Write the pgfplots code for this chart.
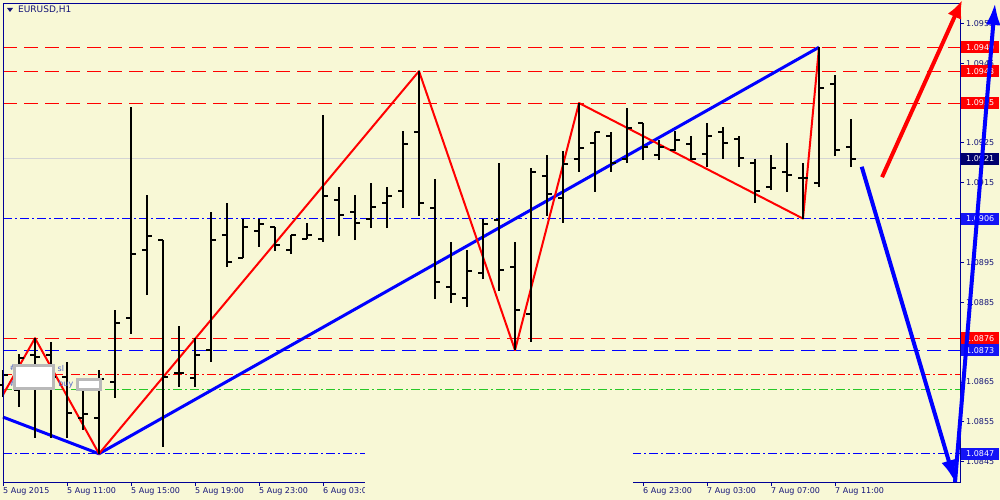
\documentclass[border=0pt]{standalone}
\usepackage{pgfplots}
\pgfplotsset{compat=1.18}
\usepackage{pgfplotstable}
\usepackage{fontspec}
\setmainfont{DejaVu Sans}
\usetikzlibrary{arrows.meta}
\definecolor{bgc}{RGB}{248,248,214}
\definecolor{framec}{RGB}{0,0,150}
\definecolor{navytxt}{RGB}{20,20,120}
\definecolor{mtred}{RGB}{255,0,0}
\definecolor{mtblue}{RGB}{0,0,255}
\definecolor{mtgreen}{RGB}{40,200,40}
\definecolor{pricegray}{RGB}{212,212,212}
\definecolor{navybox}{RGB}{0,0,110}
\definecolor{boxblue}{RGB}{20,20,245}
\definecolor{lbltxt}{RGB}{80,100,200}
\tikzset{pbox/.style={anchor=west, xshift=1pt, minimum width=38pt, minimum height=12pt, inner sep=0pt, text=white, align=center},
  longdash/.style={line width=1pt, dash pattern=on 14pt off 7pt},
  dashdot/.style={line width=1pt, dash pattern=on 9pt off 3pt on 2pt off 3pt}}
\pgfplotsset{mtgeom/.style={at={(0pt,0pt)}, anchor=south west,
  scale only axis, width=957pt, height=479pt,
  xmin=0, xmax=59.8125, ymin=1.083991, ymax=1.09601, clip=false}}

\pgfplotstableread{
i o h l c
0 1.08643 1.08680 1.08612 1.08668
1 1.08630 1.08720 1.08587 1.08710
2 1.08718 1.08760 1.08510 1.08713
3 1.08718 1.08750 1.08510 1.08663
4 1.08663 1.08700 1.08510 1.08572
5 1.08560 1.08650 1.08530 1.08570
6 1.08560 1.08680 1.08470 1.08658
7 1.08650 1.08831 1.08610 1.08798
8 1.08811 1.09340 1.08771 1.08971
9 1.08981 1.09119 1.08868 1.09016
10 1.09006 1.09006 1.08487 1.08663
11 1.08673 1.08791 1.08638 1.08673
12 1.08660 1.08760 1.08638 1.08718
13 1.08730 1.09077 1.08700 1.09006
14 1.09019 1.09099 1.08939 1.08951
15 1.08961 1.09059 1.08961 1.09039
16 1.09029 1.09059 1.08989 1.09047
17 1.09039 1.09039 1.08979 1.08994
18 1.08981 1.09019 1.08971 1.09019
19 1.09009 1.09049 1.09009 1.09019
20 1.09009 1.09320 1.09001 1.09117
21 1.09107 1.09139 1.09016 1.09069
22 1.09077 1.09119 1.09006 1.09049
23 1.09059 1.09149 1.09036 1.09089
24 1.09099 1.09139 1.09036 1.09117
25 1.09129 1.09280 1.09087 1.09247
26 1.09277 1.09430 1.09067 1.09099
27 1.09087 1.09159 1.08858 1.08901
28 1.08888 1.09001 1.08848 1.08871
29 1.08861 1.08981 1.08838 1.08929
30 1.08924 1.09059 1.08908 1.09047
31 1.09057 1.09200 1.08878 1.08931
32 1.08939 1.09001 1.08730 1.08831
33 1.08821 1.09187 1.08750 1.09177
34 1.09167 1.09220 1.09067 1.09122
35 1.09112 1.09230 1.09049 1.09197
36 1.09210 1.09350 1.09177 1.09237
37 1.09250 1.09277 1.09127 1.09277
38 1.09267 1.09277 1.09177 1.09200
39 1.09210 1.09338 1.09200 1.09287
40 1.09300 1.09300 1.09207 1.09240
41 1.09220 1.09257 1.09207 1.09240
42 1.09232 1.09280 1.09230 1.09257
43 1.09247 1.09267 1.09207 1.09210
44 1.09222 1.09300 1.09190 1.09267
45 1.09277 1.09290 1.09210 1.09250
46 1.09260 1.09267 1.09190 1.09212
47 1.09200 1.09210 1.09099 1.09129
48 1.09139 1.09220 1.09132 1.09187
49 1.09177 1.09250 1.09127 1.09169
50 1.09162 1.09200 1.09060 1.09162
51 1.09149 1.09490 1.09139 1.09388
52 1.09398 1.09420 1.09217 1.09232
53 1.09240 1.09310 1.09190 1.09210
}\bars

\begin{document}
\begin{tikzpicture}[font=\fontsize{8}{9.6}\selectfont]
\fill[bgc] (-3pt,-18pt) rectangle (997pt,482pt);
\begin{axis}[mtgeom,
  axis on top,
  axis line style={framec, line width=0.9pt},
  tick align=outside, major tick length=4pt,
  tick style={framec, line width=0.9pt},
  ytick pos=right, yticklabel pos=right,
  xtick pos=left,
  ytick={1.0845,1.0855,1.0865,1.0875,1.0885,1.0895,1.0905,1.0915,1.0925,1.0935,1.0945,1.0955},
  yticklabels={1.0845,1.0855,1.0865,,1.0885,1.0895,,1.0915,1.0925,,1.0945,1.0955},
  yticklabel style={text=navytxt, inner sep=2pt},
  xtick={0,4,8,12,16,20,40,44,48,52},
  xticklabels={5 Aug 2015,5 Aug 11:00,5 Aug 15:00,5 Aug 19:00,5 Aug 23:00,6 Aug 03:00,6 Aug 23:00,7 Aug 03:00,7 Aug 07:00,7 Aug 11:00},
  xticklabel style={text=navytxt, anchor=north west, inner sep=1pt, xshift=-1pt},
]
% horizontal lines
\addplot[draw=pricegray, line width=1pt] coordinates {(0,1.0921) (59.8125,1.0921)};
\addplot[draw=mtgreen, dashdot] coordinates {(0,1.08630) (59.8125,1.08630)};
\addplot[draw=mtred, dashdot] coordinates {(0,1.08670) (59.8125,1.08670)};
\addplot[draw=mtblue, dashdot] coordinates {(0,1.0906) (59.8125,1.0906)};
\addplot[draw=mtblue, dashdot] coordinates {(0,1.0847) (59.8125,1.0847)};
\addplot[draw=mtred, longdash] coordinates {(0,1.0876) (59.8125,1.0876)};
\addplot[draw=mtblue, longdash] coordinates {(0,1.0873) (59.8125,1.0873)};
\addplot[draw=mtred, longdash] coordinates {(0,1.0949) (59.8125,1.0949)};
\addplot[draw=mtred, longdash] coordinates {(0,1.0943) (59.8125,1.0943)};
\addplot[draw=mtred, longdash] coordinates {(0,1.0935) (59.8125,1.0935)};
% zigzags
\addplot[draw=mtblue, line width=3pt, line join=round] coordinates {(0,1.08562) (6,1.0847) (51,1.0949)};
\addplot[draw=mtred, line width=2pt, line join=round] coordinates {(0,1.08618) (2,1.0876) (6,1.0847) (26,1.0943) (32,1.0873) (36,1.0935) (50,1.0906) (51,1.0949)};
% OHLC bars
\addplot[draw=none, mark=none, error bars/.cd, y dir=plus, y explicit, error mark=none, error bar style={draw=black, line width=2.2pt}]
  table[x=i, y=l, y error plus expr=\thisrow{h}-\thisrow{l}] {\bars};
\addplot[draw=none, mark=none, error bars/.cd, x dir=minus, x fixed=0.31, error mark=none, error bar style={draw=black, line width=2pt}]
  table[x=i, y=o] {\bars};
\addplot[draw=none, mark=none, error bars/.cd, x dir=plus, x fixed=0.31, error mark=none, error bar style={draw=black, line width=2pt}]
  table[x=i, y=c] {\bars};
% trade line labels (left)
\node[text=lbltxt, anchor=west, inner sep=0pt] at (axis cs:0.4,1.08685) {\#};
\node[text=lbltxt, anchor=west, inner sep=0pt] at (axis cs:3.4,1.08685) {sl};
\node[text=lbltxt, anchor=west, inner sep=0pt] at (axis cs:0.4,1.08645) {\#};
\node[text=lbltxt, anchor=west, inner sep=0pt] at (axis cs:3.45,1.08645) {buy};
\filldraw[fill=white, draw=gray!55, line width=3pt] (axis cs:0.7,1.08692) rectangle (axis cs:3.18,1.08634);
\filldraw[fill=white, draw=gray!55, line width=3pt] (axis cs:4.66,1.08656) rectangle (axis cs:6.09,1.08631);
% anchors for the price boxes
\coordinate (p0949) at (axis cs:59.8125,1.0949);
\coordinate (p0943) at (axis cs:59.8125,1.0943);
\coordinate (p0935) at (axis cs:59.8125,1.0935);
\coordinate (p0921) at (axis cs:59.8125,1.0921);
\coordinate (p0906) at (axis cs:59.8125,1.0906);
\coordinate (p0876) at (axis cs:59.8125,1.0876);
\coordinate (p0873) at (axis cs:59.8125,1.0873);
\coordinate (p0847) at (axis cs:59.8125,1.0847);
\end{axis}
% price boxes
\node[pbox, fill=mtred] at (p0949) {1.0949};
\node[pbox, fill=mtred] at (p0943) {1.0943};
\node[pbox, fill=mtred] at (p0935) {1.0935};
\node[pbox, fill=navybox] at (p0921) {1.0921};
\node[pbox, fill=boxblue] at (p0906) {1.0906};
\node[pbox, fill=mtred] at (p0876) {1.0876};
\node[pbox, fill=boxblue] at (p0873) {1.0873};
\node[pbox, fill=boxblue] at (p0847) {1.0847};
% overlay gap at the bottom
\fill[bgc] (362pt,36pt) rectangle (630pt,-18pt);
% arrows (same axis geometry, drawn on top)
\begin{axis}[mtgeom, hide axis]
\addplot[draw=mtred, fill=mtred, line width=4pt, -{Latex[length=18pt,width=15pt]}] coordinates {(54.94,1.09164) (59.94,1.09608)};
\addplot[draw=mtblue, fill=mtblue, line width=4pt, -{Latex[length=22pt,width=15pt]}] coordinates {(53.67,1.09190) (59.5,1.08399)};
\addplot[draw=mtblue, fill=mtblue, line width=4pt, -{Latex[length=22pt,width=15pt]}] coordinates {(59.5,1.08399) (62.0,1.09601)};
\end{axis}
% title
\fill[navytxt] (4pt,474pt) -- (10pt,474pt) -- (7pt,470pt) -- cycle;
\node[anchor=west, text=navytxt, inner sep=0pt, font=\fontsize{9}{10.8}\selectfont] at (15pt,472pt) {EURUSD,H1};
\pgfresetboundingbox
\path (-3pt,-18pt) rectangle (997pt,482pt);
\end{tikzpicture}
\end{document}
